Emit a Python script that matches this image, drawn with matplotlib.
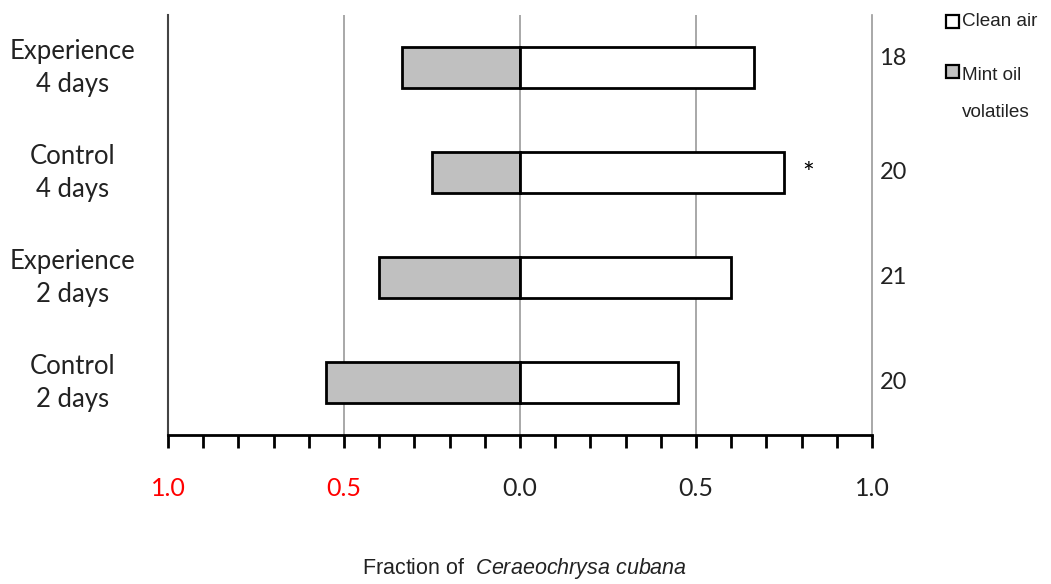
import numpy as np
import matplotlib.pyplot as plt
import matplotlib.transforms as mtransforms

# data
groups = ['Control\n2 days', 'Experience\n2 days', 'Control\n4 days', 'Experience\n4 days']
mint_oil = [0.55, 0.40, 0.25, 0.335]
clean_air = [0.45, 0.60, 0.75, 0.665]
n_values = ['20', '21', '20', '18']
signif = ['', '', '*', '']
tick_vals = [-1.0, -0.5, 0.0, 0.5, 1.0]
tick_labels = ['1.0', '0.5', '0.0', '0.5', '1.0']
tick_colors = ['red', 'red', '#222222', '#222222', '#222222']

plt.rcParams['font.family'] = ['Lato', 'DejaVu Sans']
plt.rcParams['mathtext.fontset'] = 'custom'
plt.rcParams['mathtext.rm'] = 'Liberation Sans'
plt.rcParams['mathtext.it'] = 'Liberation Sans:italic'

fig = plt.figure(figsize=(10.51, 5.84), dpi=100)
ax = fig.add_axes([0.1598, 0.2551, 0.6699, 0.7192])

y = np.arange(len(groups))
ax.barh(y, [-v for v in mint_oil], height=0.39, color='#c0c0c0', edgecolor='black', linewidth=2, zorder=3)
ax.barh(y, clean_air, height=0.39, color='white', edgecolor='black', linewidth=2, zorder=3)

ax.set_xlim(-1, 1)
ax.set_ylim(-0.5, 3.5)
for gx in [-0.5, 0.0, 0.5]:
    ax.axvline(gx, color='#999999', linewidth=1.2, zorder=1)

ax.spines['top'].set_visible(False)
ax.spines['left'].set_color('#444444')
ax.spines['left'].set_linewidth(1.5)
ax.spines['right'].set_color('#999999')
ax.spines['right'].set_linewidth(1.2)
ax.spines['bottom'].set_linewidth(2)

ax.set_yticks([])
ax.set_xticks(tick_vals)
ax.set_xticks(np.arange(-1, 1.01, 0.1), minor=True)
ax.tick_params(axis='x', which='both', direction='out', length=9, width=2, pad=21)
ax.set_xticklabels(tick_labels, fontsize=18)
for lbl, c in zip(ax.get_xticklabels(), tick_colors):
    lbl.set_color(c)

trans = mtransforms.blended_transform_factory(ax.transAxes, ax.transData)
for yi, g in zip(y, groups):
    ax.text(-0.135, yi, g, transform=trans, ha='center', va='center',
            fontsize=18.5, color='#222222', linespacing=1.4)
for yi, n in zip(y, n_values):
    ax.text(1.03, yi + (0.09 if n == '18' else 0), n, transform=trans, ha='center', va='center',
            fontsize=17, color='#222222')
for yi, s, v in zip(y, signif, clean_air):
    if s:
        ax.text(v + 0.068, yi - 0.02, s, ha='center', va='center', fontsize=20)

fig.text(0.4995, 0.027, 'Fraction of  $\\it{Ceraeochrysa\\ cubana}$', fontsize=15.5,
         family='Liberation Sans', ha='center', va='center', color='#222222')

# legend drawn by hand
fig.patches.append(plt.Rectangle((0.9, 0.952), 0.0125, 0.023, transform=fig.transFigure,
                                 facecolor='white', edgecolor='black', linewidth=1.6))
fig.patches.append(plt.Rectangle((0.9, 0.866), 0.0125, 0.023, transform=fig.transFigure,
                                 facecolor='#c0c0c0', edgecolor='black', linewidth=1.6))
fig.text(0.9155, 0.963, 'Clean air', family='Liberation Sans', fontsize=13.6, va='center', color='#222222')
fig.text(0.9155, 0.870, 'Mint oil', family='Liberation Sans', fontsize=13.6, va='center', color='#222222')
fig.text(0.9155, 0.808, 'volatiles', family='Liberation Sans', fontsize=13.6, va='center', color='#222222')

fig.savefig('out.png', dpi=100)
